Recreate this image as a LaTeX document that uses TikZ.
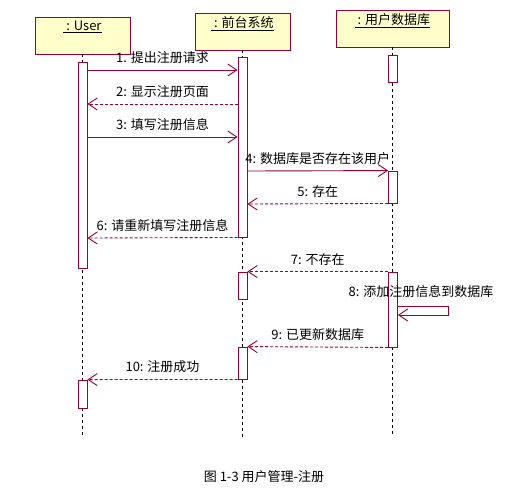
\documentclass[tikz,border=0pt]{standalone}
\usepackage{fontspec}
\setmainfont{Noto Sans CJK SC}
\usepackage{xcolor}
\usetikzlibrary{arrows.meta}
\definecolor{umlred}{HTML}{990033}
\definecolor{umlyellow}{HTML}{FFFFCC}

\begin{document}
\begin{tikzpicture}[x=1pt,y=-1pt,line width=0.9pt,>={Straight Barb[length=9pt,width=12pt]},
    obj/.style={draw=umlred,fill=umlyellow,minimum width=95pt,minimum height=37pt,inner sep=0pt},
    act/.style={draw=umlred,fill=white,minimum width=9pt,inner sep=0pt},
    life/.style={black,line width=0.8pt,dash pattern=on 3pt off 3pt},
    call/.style={->,umlred},
    ret/.style={->,umlred,dash pattern=on 3pt off 2pt},
    lbl/.style={text=black,font=\fontsize{13}{15}\selectfont,inner sep=0pt},
    head/.style={label={[lbl,anchor=north,yshift=-4pt]north:\underline{#1}}}]
    \useasboundingbox (0,0) rectangle (516,491);

    % objects
    \node[obj,head={\ : User}] (usr) at (82.5,35.5) {};
    \node[obj,head={\ : 前台系统}] (sys) at (242.5,31.5) {};
    \node[obj,head={\ : 用户数据库},minimum width=113pt] (db) at (392.5,28.5) {};

    % lifelines
    \foreach \o in {usr,sys,db}
        \draw[life] (\o.south) -- (\o.south |- 0,437);

    % activations
    \node[act,minimum height=206pt] (ua1) at (82.5,165) {};
    \node[act,minimum height=28pt] (ua2) at (82.5,394) {};
    \node[act,minimum height=180pt] (sa1) at (242.5,147) {};
    \node[act,minimum height=27pt] (sa2) at (242.5,285.5) {};
    \node[act,minimum height=32pt] (sa3) at (242.5,363) {};
    \node[act,minimum height=27pt] (da1) at (393,68.5) {};
    \node[act,minimum height=32pt] (da2) at (393,187) {};
    \node[act,minimum height=75pt] (da3) at (393,309.5) {};

    % messages
    \draw[call] (ua1.east |- 0,70) -- node[lbl,above=6pt] {1. 提出注册请求} (sa1.west |- 0,70);
    \draw[ret] (sa1.west |- 0,104) -- node[lbl,above=6pt] {2: 显示注册页面} (ua1.east |- 0,104);
    \draw[call] (ua1.east |- 0,137) -- node[lbl,above=6pt] {3: 填写注册信息} (sa1.west |- 0,137);
    \draw[call] (sa1.east |- 0,171) -- node[lbl,above=6pt] {4: 数据库是否存在该用户} (da2.north west);
    \draw[ret] (da2.south west) -- node[lbl,above=6pt] {5: 存在} (sa1.east |- 0,204);
    \draw[ret] (sa1.south west) -- node[lbl,above=6pt] {6: 请重新填写注册信息} (ua1.east |- 0,238);
    \draw[ret] (da3.north west) -- node[lbl,above=6pt] {7: 不存在} (sa2.north east);
    \draw[call] (da3.east |- 0,306) -- ++(50,0) -- ++(0,9) -- (da3.east |- 0,315);
    \node[lbl] (m8) at (421,292) {8: 添加注册信息到数据库};
    \draw[ret] (da3.south west) -- node[lbl,above=6pt] {9: 已更新数据库} (sa3.north east);
    \draw[ret] (sa3.south west) -- node[lbl,above=6pt] {10: 注册成功} (ua2.north east);

    \node[lbl] (cap) at (264,477) {图 1-3 用户管理-注册};
\end{tikzpicture}
\end{document}
